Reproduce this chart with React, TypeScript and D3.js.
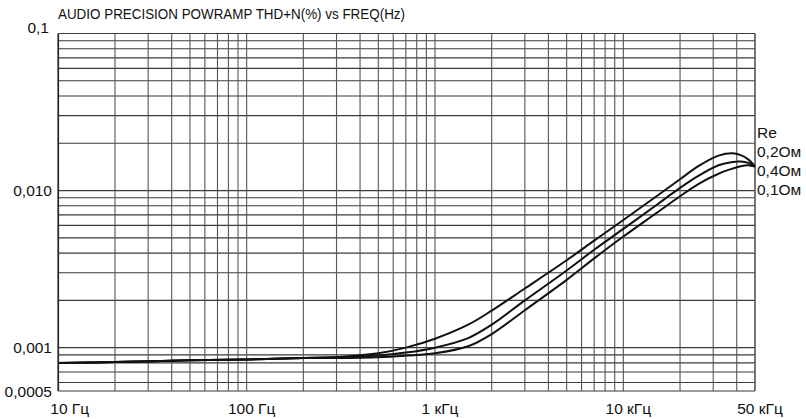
import React from "react";
import * as d3 from "d3";

const title = "AUDIO PRECISION POWRAMP THD+N(%) vs FREQ(Hz)";
const freqs = [10, 20, 50, 100, 200, 300, 500, 700, 1000, 1500, 2000, 3000, 5000, 7000, 10000, 15000, 20000, 25000, 32000, 38000, 42000, 46000, 50000];
const seriesNames = ["0,2Ом", "0,4Ом", "0,1Ом"];
const thdRe02 = [0.0008, 0.00081, 0.00083, 0.00084, 0.00086, 0.00087, 0.00092, 0.001, 0.00114, 0.0014, 0.00172, 0.00238, 0.0036, 0.0048, 0.0065, 0.0092, 0.0118, 0.0143, 0.0167, 0.0173, 0.0168, 0.0158, 0.0142];
const thdRe04 = [0.0008, 0.00081, 0.00083, 0.00084, 0.00086, 0.00087, 0.00089, 0.00093, 0.001, 0.00115, 0.0014, 0.002, 0.0031, 0.0042, 0.0057, 0.0081, 0.0104, 0.0124, 0.0145, 0.0152, 0.0153, 0.015, 0.0142];
const thdRe01 = [0.0008, 0.00081, 0.00083, 0.00084, 0.00086, 0.00086, 0.00087, 0.00089, 0.00092, 0.00102, 0.00122, 0.00173, 0.0027, 0.0037, 0.0051, 0.0072, 0.0092, 0.011, 0.0128, 0.0138, 0.0143, 0.0145, 0.0142];
const xTickValues = [10, 100, 1000, 10000, 50000];
const xTickLabels = ["10 Гц", "100 Гц", "1 кГц", "10 кГц", "50 кГц"];
const yTickValues = [0.1, 0.01, 0.001, 0.0005];
const yTickLabels = ["0,1", "0,010", "0,001", "0,0005"];
const legendTitle = "Re";

const W = 806;
const H = 419;
const FONT = "'Liberation Sans', Arial, sans-serif";

export default function App() {
  const x = d3.scaleLog().domain([10, 50000]).range([58.3, 755]);
  const y = d3.scaleLog().domain([0.0005, 0.0006, 0.1]).range([391, 382.5, 33.5]);

  const xGrid: number[] = [];
  for (let dec = 10; dec <= 10000; dec *= 10) {
    for (let m = 1; m <= 9; m++) {
      const v = dec * m;
      if (v <= 50000) xGrid.push(v);
    }
  }
  xGrid.push(50000);
  const yGrid: number[] = [0.0005, 0.0006, 0.0007, 0.0008, 0.0009];
  for (let dec = 0.001; dec < 0.1; dec *= 10) {
    for (let m = 1; m <= 9; m++) yGrid.push(dec * m);
  }
  yGrid.push(0.1);

  const series = [thdRe02, thdRe04, thdRe01];
  const line = d3
    .line<number>()
    .x((_, i) => x(freqs[i]))
    .y((d) => y(d))
    .curve(d3.curveCatmullRom.alpha(0.5));

  const x0 = x(10), x1 = x(50000), y0 = y(0.0005), y1 = y(0.1);

  return (
    <svg
      width={W}
      height={H}
      style={{ position: "absolute", left: 0, top: 0, background: "#fff" }}
      fontFamily={FONT}
    >
      <rect x={0} y={0} width={W} height={H} fill="#fff" />
      <text x={58} y={19} fontSize={15.5} fill="#111" textLength={347} lengthAdjust="spacingAndGlyphs">
        {title}
      </text>
      {yGrid.map((v, i) => (
        <line key={"h" + i} x1={x0} x2={x1} y1={y(v)} y2={y(v)} stroke="#3a3a3a" strokeWidth={1.1} />
      ))}
      {xGrid.map((v, i) => (
        <line key={"v" + i} x1={x(v)} x2={x(v)} y1={y1} y2={y0} stroke="#555" strokeWidth={1.1} />
      ))}
      <line x1={x0} x2={x0} y1={y1} y2={y0} stroke="#222" strokeWidth={1.6} />
      {series.map((s, i) => (
        <path key={"s" + i} d={line(s) || ""} fill="none" stroke="#111" strokeWidth={2} />
      ))}
      {yTickValues.map((v, i) => (
        <text
          key={"yl" + i}
          x={i === 0 ? 49 : 52}
          y={i === 0 ? y(v) - 6 : y(v)}
          dy="0.36em"
          textAnchor="end"
          fontSize={15.5}
          fill="#111"
        >
          {yTickLabels[i]}
        </text>
      ))}
      {xTickValues.map((v, i) => (
        <text
          key={"xl" + i}
          x={i === 0 ? x(v) - 8 : x(v) + 5}
          y={414}
          textAnchor={i === 0 ? "start" : "middle"}
          fontSize={15.5}
          fill="#111"
        >
          {xTickLabels[i]}
        </text>
      ))}
      <text x={757} y={138} fontSize={15.5} fill="#111">
        {legendTitle}
      </text>
      {seriesNames.map((n, i) => (
        <text key={"lg" + i} x={757} y={157 + i * 19} fontSize={15.5} fill="#111">
          {n}
        </text>
      ))}
    </svg>
  );
}
